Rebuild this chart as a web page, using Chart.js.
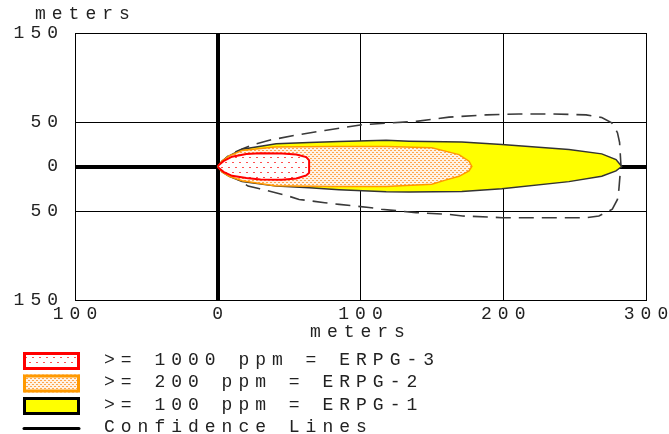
<!DOCTYPE html>
<html>
<head>
<meta charset="utf-8">
<script src="https://cdn.jsdelivr.net/npm/chart.js@4.4.1/dist/chart.umd.min.js"></script>
<style>
    body { margin: 0; background: #fff; }
    canvas { display: block; }
</style>
</head>
<body>
<canvas id="threatChart" width="669" height="434"></canvas>
<script>
// axis ticks and labels (the plot shows no minus signs)
let xTicks = [-100, 0, 100, 200, 300];
let xTickLabels = ["100", "0", "100", "200", "300"];
let yTicks = [150, 50, 0, -50, -150];
let yTickLabels = ["150", "50", "0", "50", "150"];
let axisTitle = "meters";

let zoneLabels = [">= 1000 ppm = ERPG-3", ">= 200 ppm = ERPG-2", ">= 100 ppm = ERPG-1", "Confidence Lines"];

// downwind distance (m) and crosswind half widths (m) of each zone
let erpg3Dist  = [0, 1, 4, 10, 20, 30, 45, 55, 62, 64, 64];
let erpg3Upper = [0, 2, 6, 11, 14, 15, 14.5, 13.4, 10.5, 7, 0];
let erpg3Lower = [0, 2, 6, 10.5, 13, 14.5, 15, 13.5, 10, 7, 0];

let erpg2Dist  = [0, 3, 8, 17, 40, 80, 118, 150, 160, 169, 176, 178];
let erpg2Upper = [0, 6, 12, 18, 22, 22.5, 22.5, 21, 17, 13.4, 6, 0];
let erpg2Lower = [0, 6, 11, 16, 21.5, 22.5, 22.5, 20, 15, 11, 5, 0];

let erpg1Dist  = [0, 3, 8, 17, 41, 64, 85, 118, 134, 171, 199, 246, 269, 279, 283];
let erpg1Upper = [0, 6, 12, 19.5, 25.5, 27, 28, 29.5, 28.5, 27.5, 24.6, 19, 14.2, 7.8, 0];
let erpg1Lower = [0, 6, 11, 17, 22, 24, 26, 28.5, 28.7, 28, 25, 17, 11, 5, 0];

let confUpperDist = [0, 4, 8.4, 17.5, 24.7, 37.5, 54, 75, 101.6, 139, 162, 188, 211, 234, 258, 269, 276, 280, 281.5, 282.5];
let confUpper     = [0, 7, 13.4, 20, 24.6, 30, 35, 40.5, 47, 50.7, 55.5, 58, 59, 59, 58, 55, 49, 38, 27, 0];
let confLowerDist = [0, 2.6, 10.7, 21.2, 29.4, 49, 57, 75, 85, 106, 114.5, 139, 162, 171.5, 199.5, 234.5, 258, 267, 276.4, 280, 281, 282.3];
let confLower     = [0, 3.4, 10.8, 22, 25, 33, 37, 40.7, 42.6, 46, 48, 51.8, 53.8, 55.6, 57.5, 57.5, 57.5, 55.6, 48, 37, 25.7, 0];

let textColor = "#222";
let fontFamily = "'Liberation Mono', 'DejaVu Sans Mono', monospace";
let fontSize = 18;

// closed outline: along the upper edge, then back along the lower edge
function outline(upDist, up, lowDist, low) {
    let pts = [];
    for (let i = 0; i < upDist.length; i++) pts.push({ x: upDist[i], y: up[i] });
    for (let i = lowDist.length - 1; i >= 0; i--) pts.push({ x: lowDist[i], y: -low[i] });
    return pts;
}

let canvas = document.getElementById("threatChart");
let ctx = canvas.getContext("2d");

function dotPattern(bg, dot, w, h, spots) {
    let tile = document.createElement("canvas");
    tile.width = w;
    tile.height = h;
    let t = tile.getContext("2d");
    t.fillStyle = bg;
    t.fillRect(0, 0, w, h);
    t.fillStyle = dot;
    spots.forEach(function (s) { t.fillRect(s[0], s[1], s[2], s[3]); });
    return ctx.createPattern(tile, "repeat");
}

let redDots = dotPattern("#ffffff", "#ff5050", 7, 10, [[1, 2, 2, 1], [4, 7, 2, 1]]);
let orangeDots = dotPattern("#fff3e6", "#ffa64d", 4, 4, [[0, 0, 2, 1], [2, 2, 2, 1]]);

// canvas letter spacing, to get the wide typewriter look
let spacingPlugin = {
    id: "spacing",
    beforeUpdate(chart) { chart.ctx.letterSpacing = "6px"; },
    beforeDraw(chart) { chart.ctx.letterSpacing = "6px"; }
};

// y title above the axis and the legend stacked at the bottom left
let legendPlugin = {
    id: "zoneLegend",
    afterDraw(chart) {
        let c = chart.ctx;
        let area = chart.chartArea;
        c.save();
        c.font = fontSize + "px " + fontFamily;
        c.fillStyle = textColor;
        c.textBaseline = "middle";
        c.textAlign = "left";
        c.fillText(axisTitle, area.left - 40, area.top - 19);

        chart.data.datasets.forEach(function (ds, i) {
            let y = 361 + i * 22.5;
            c.save();
            if (ds.fill) {
                c.fillStyle = ds.backgroundColor;
                c.fillRect(23, y - 9, 57, 18);
                c.strokeStyle = ds.legendBorder;
                c.lineWidth = 3;
                c.strokeRect(24.5, y - 7.5, 54, 15);
            } else {
                c.strokeStyle = ds.legendBorder;
                c.lineWidth = 3;
                c.lineCap = "round";
                c.beginPath();
                c.moveTo(24, y);
                c.lineTo(79, y);
                c.stroke();
            }
            c.restore();
            c.fillText(ds.label, 104, y - 1);
        });
        c.restore();
    }
};

let gridWidth = function (c) {
    return (c.tick && c.tick.value === 0) ? 4 : 1;
};

let chart = new Chart(ctx, {
    type: "scatter",
    data: {
        datasets: [
            {
                label: zoneLabels[0],
                data: outline(erpg3Dist, erpg3Upper, erpg3Dist, erpg3Lower),
                showLine: true,
                fill: "shape",
                backgroundColor: redDots,
                borderColor: "#ff0000",
                legendBorder: "#ff0000",
                borderWidth: 2
            },
            {
                label: zoneLabels[1],
                data: outline(erpg2Dist, erpg2Upper, erpg2Dist, erpg2Lower),
                showLine: true,
                fill: "shape",
                backgroundColor: orangeDots,
                borderColor: "#ff9900",
                legendBorder: "#ff9900",
                borderWidth: 1.5
            },
            {
                label: zoneLabels[2],
                data: outline(erpg1Dist, erpg1Upper, erpg1Dist, erpg1Lower),
                showLine: true,
                fill: "shape",
                backgroundColor: "#ffff00",
                borderColor: "#333333",
                legendBorder: "#000000",
                borderWidth: 1.5
            },
            {
                label: zoneLabels[3],
                data: outline(confUpperDist, confUpper, confLowerDist, confLower),
                showLine: true,
                fill: false,
                borderColor: "#3a3a3a",
                legendBorder: "#000000",
                borderWidth: 1.6,
                borderDash: [15, 8]
            }
        ]
    },
    options: {
        responsive: false,
        animation: false,
        events: [],
        layout: { padding: { top: 33, right: 23, bottom: 89, left: 0 } },
        elements: { point: { radius: 0 }, line: { tension: 0 } },
        plugins: {
            legend: { display: false },
            tooltip: { enabled: false }
        },
        scales: {
            x: {
                type: "linear",
                min: -100,
                max: 300,
                z: 1,
                afterBuildTicks: function (s) { s.ticks = xTicks.map(v => ({ value: v })); },
                afterFit: function (s) { s.height = 45; s.paddingLeft = 0; s.paddingRight = 0; },
                grid: { color: "#000", lineWidth: gridWidth, drawTicks: false },
                border: { color: "#000", width: 1 },
                ticks: {
                    autoSkip: false,
                    maxRotation: 0,
                    padding: 3,
                    labelOffset: 3,
                    color: textColor,
                    font: { family: fontFamily, size: fontSize },
                    callback: v => xTickLabels[xTicks.indexOf(v)]
                },
                title: {
                    display: true,
                    text: axisTitle,
                    color: textColor,
                    font: { family: fontFamily, size: fontSize },
                    padding: { top: 0, bottom: 2 }
                }
            },
            y: {
                type: "linear",
                min: -150,
                max: 150,
                z: 1,
                afterBuildTicks: function (s) { s.ticks = yTicks.slice().reverse().map(v => ({ value: v })); },
                afterFit: function (s) { s.width = 75; s.paddingTop = 0; s.paddingBottom = 0; },
                grid: { color: "#000", lineWidth: gridWidth, drawTicks: false },
                border: { color: "#000", width: 1 },
                ticks: {
                    padding: 11,
                    color: textColor,
                    font: { family: fontFamily, size: fontSize },
                    callback: v => yTickLabels[yTicks.indexOf(v)]
                }
            }
        }
    },
    plugins: [spacingPlugin, legendPlugin]
});
</script>
</body>
</html>
